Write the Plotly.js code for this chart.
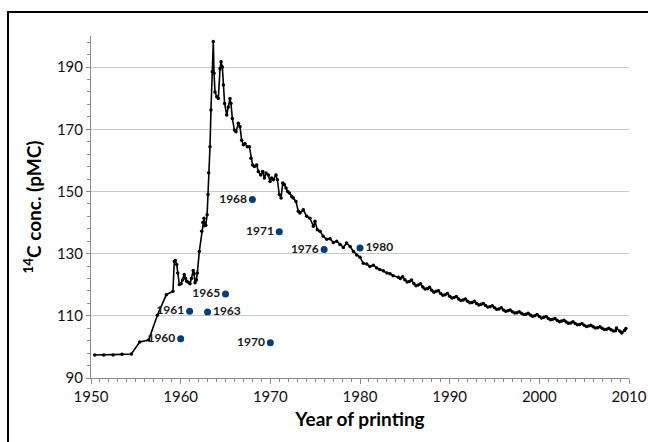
<!DOCTYPE html>
<html>
<head>
<meta charset="utf-8">
<script src="https://cdn.plot.ly/plotly-3.0.1.min.js"></script>
<style>
html,body{margin:0;padding:0;background:#fff;overflow:hidden;width:648px;height:442px;}
#chart{width:648px;height:442px;position:absolute;left:0;top:0;}
#frame{position:absolute;left:7px;top:11px;width:660px;height:460px;border-left:2px solid #000;border-top:2px solid #000;pointer-events:none;}
</style>
</head>
<body>
<div id="chart"></div>
<div id="frame"></div>
<script>
// Atmospheric 14C record (year, pMC)
const years = [
1950.42,1951.42,1952.46,1953.46,1954.5,1955.43,1956.43,1957.4,1958.4,1959.14,
1959.29,1959.4,1959.56,1959.67,1959.85,1960.04,1960.2,1960.4,1960.55,1960.67,
1960.85,1961.04,1961.2,1961.4,1961.5,1961.6,1961.75,1961.86,1962.08,1962.35,
1962.47,1962.6,1962.7,1962.8,1962.95,1963.05,1963.12,1963.27,1963.38,1963.53,
1963.64,1963.72,1963.83,1964.02,1964.2,1964.39,1964.5,1964.65,1964.76,1964.9,
1965.13,1965.31,1965.5,1965.61,1965.76,1965.99,1966.17,1966.43,1966.62,1966.8,
1966.99,1967.17,1967.43,1967.66,1967.84,1968.03,1968.22,1968.48,1968.66,1968.93,
1969.15,1969.34,1969.52,1969.78,1969.97,1970.15,1970.34,1970.63,1970.78,1971.0,
1971.2,1971.38,1971.56,1971.75,1971.93,1972.12,1972.38,1972.56,1972.86,1973.12,
1973.3,1973.68,1974.05,1974.42,1974.8,1974.98,1975.24,1975.54,1975.9,1976.28,
1976.65,1977.03,1977.4,1977.77,1978.14,1978.5,1978.9,1979.27,1979.63,1980.0,
1980.37,1980.75,1981.1,1981.48,1981.86,1982.2,1982.6,1983.0,1983.35,1983.7,
1984.27,1984.5,1984.75,1985.0,1985.25,1985.5,1985.75,1986.0,1986.25,1986.5,
1986.75,1987.0,1987.25,1987.5,1987.75,1988.0,1988.25,1988.5,1988.75,1989.0,
1989.25,1989.5,1989.75,1990.0,1990.25,1990.5,1990.75,1991.0,1991.25,1991.5,
1991.75,1992.0,1992.25,1992.5,1992.75,1993.0,1993.25,1993.5,1993.75,1994.0,
1994.25,1994.5,1994.75,1995.0,1995.25,1995.5,1995.75,1996.0,1996.25,1996.5,
1996.75,1997.0,1997.25,1997.5,1997.75,1998.0,1998.25,1998.5,1998.75,1999.0,
1999.25,1999.5,1999.75,2000.0,2000.25,2000.5,2000.75,2001.0,2001.25,2001.5,
2001.75,2002.0,2002.25,2002.5,2002.75,2003.0,2003.25,2003.5,2003.75,2004.0,
2004.25,2004.5,2004.75,2005.0,2005.25,2005.5,2005.75,2006.0,2006.25,2006.5,
2006.75,2007.0,2007.25,2007.5,2007.75,2008.0,2008.25,2008.5,2008.6,2009.0,
2009.2,2009.5,2009.65
];
const pmc = [
97.4,97.4,97.4,97.6,97.7,101.6,102.2,110.2,116.8,117.9,
127.5,127.8,126.5,123.8,120.1,120.3,121.5,123.3,122.0,121.1,
120.8,120.3,122.0,124.6,123.5,120.6,121.5,123.8,130.7,137.2,
140.0,141.4,139.0,139.1,142.5,149.0,156.0,164.4,176.2,188.5,
198.2,188.0,182.0,180.5,179.9,189.5,191.7,190.0,184.2,178.3,
174.6,177.2,179.9,178.3,173.5,169.8,169.2,171.9,170.8,166.5,
165.0,165.4,164.4,164.4,160.7,158.5,158.0,158.5,156.4,155.3,
156.4,154.3,155.9,155.3,153.2,154.3,153.8,155.3,153.8,149.0,
147.9,152.7,152.2,151.1,150.0,149.5,148.4,147.9,146.8,143.6,
143.1,144.1,142.0,141.4,138.8,140.4,137.7,137.2,135.6,134.6,
134.8,133.6,134.0,132.9,132.0,133.4,132.3,130.7,129.6,128.8,
126.9,126.7,125.9,126.3,125.4,124.9,124.5,123.8,123.5,122.9,
122.4,122.0,122.6,121.6,120.9,121.0,121.5,120.4,119.7,119.9,
120.3,119.3,118.6,118.7,119.2,118.2,117.6,117.9,118.1,117.2,
116.6,116.8,117.2,116.3,115.7,115.9,116.2,115.4,114.9,115.1,
115.4,114.7,114.2,114.3,114.7,114.0,113.5,113.7,114.0,113.3,
112.8,112.9,113.2,112.6,112.1,112.2,112.6,111.9,111.5,111.6,
111.9,111.3,110.9,111.0,111.3,110.8,110.4,110.5,110.8,110.3,
109.9,110.0,110.4,109.8,109.3,109.5,109.8,109.1,108.7,108.9,
109.1,108.5,108.1,108.3,108.6,108.0,107.6,107.7,108.1,107.5,
107.1,107.2,107.5,107.0,106.6,106.7,107.0,106.5,106.1,106.2,
106.5,106.0,105.6,105.7,106.0,105.5,105.1,105.2,106.1,105.0,
104.5,105.3,105.9
];
// Printed samples
const sampleYears = [1960,1961,1963,1965,1968,1970,1971,1976,1980];
const samplePmc   = [102.6,111.5,111.2,117.0,147.4,101.3,137.0,131.3,131.8];
const sampleLabels = ["1960","1961","1963","1965","1968","1970","1971","1976","1980"];
const labelSide = ["middle left","middle left","middle right","middle left","middle left","middle left","middle left","middle left","middle right"];

const xTickVals = [1950,1960,1970,1980,1990,2000,2010];
const yTickVals = [90,110,130,150,170,190];

const font = "Lato, 'Liberation Sans', sans-serif";

const traces = [
  {
    x: years, y: pmc, type: 'scatter', mode: 'lines+markers',
    line: {color: '#000', width: 1.6},
    marker: {color: '#000', size: 3.5},
    hoverinfo: 'skip', showlegend: false
  },
  {
    x: sampleYears, y: samplePmc, type: 'scatter', mode: 'markers+text',
    text: sampleLabels.map(s => '<b>' + s + '</b>'),
    textposition: labelSide,
    textfont: {family: font, size: 12, color: '#1a1a1a'},
    marker: {color: '#073d7a', size: 7},
    showlegend: false
  }
];

const layout = {
  width: 648, height: 442,
  margin: {l: 91, r: 19, t: 36, b: 64},
  paper_bgcolor: '#fff', plot_bgcolor: '#fff',
  font: {family: font, color: '#000'},
  xaxis: {
    range: [1950, 2010], tickvals: xTickVals, ticktext: xTickVals.map(String),
    showgrid: false, zeroline: false,
    showline: true, linecolor: '#8a8a8a', linewidth: 1,
    ticks: 'outside', ticklen: 5, tickcolor: '#8a8a8a',
    minor: {dtick: 1, tick0: 1950, ticks: 'outside', ticklen: 3, tickcolor: '#8a8a8a', showgrid: false},
    tickfont: {family: font, size: 15, color: '#111'},
    title: {text: '<b>Year of printing</b>', font: {family: font, size: 19, color: '#000'}, standoff: 8}
  },
  yaxis: {
    range: [90, 200], tickvals: yTickVals, ticktext: yTickVals.map(String),
    showgrid: true, gridcolor: '#c8c8c8', gridwidth: 1, zeroline: false,
    showline: true, linecolor: '#8a8a8a', linewidth: 1,
    ticks: 'outside', ticklen: 4, tickcolor: '#8a8a8a',
    minor: {dtick: 4, tick0: 90, ticks: 'outside', ticklen: 3, tickcolor: '#8a8a8a', showgrid: false},
    tickfont: {family: font, size: 15, color: '#111'},
    title: {text: '<b><sup>14</sup>C conc. (pMC)</b>', font: {family: font, size: 19, color: '#000'}, standoff: 10}
  }
};

Plotly.newPlot('chart', traces, layout, {staticPlot: true, displayModeBar: false});
</script>
</body>
</html>
